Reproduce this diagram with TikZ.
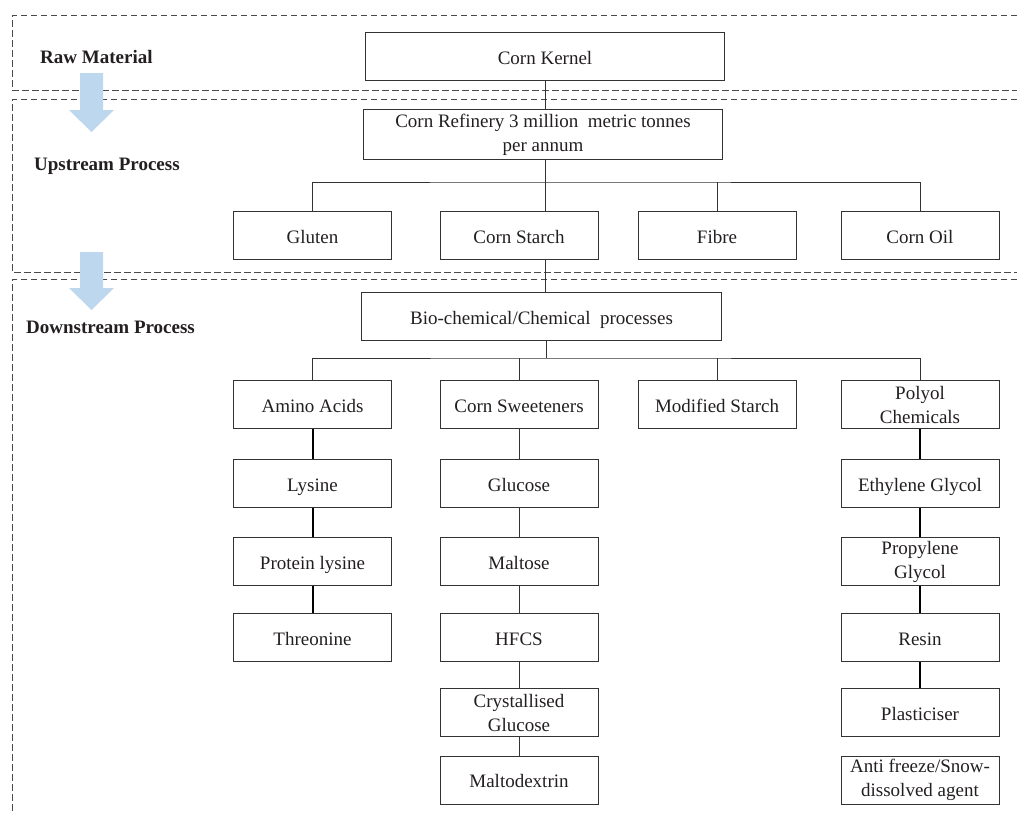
\documentclass[tikz,border=0pt]{standalone}
\usepackage{fontspec}
\setmainfont{Liberation Serif}
\usetikzlibrary{positioning}
\definecolor{txt}{HTML}{231F20}
\definecolor{edge}{HTML}{333333}
\definecolor{dashc}{HTML}{4A4A4A}
\definecolor{arrowblue}{HTML}{BDD7EE}
\tikzset{
  x=1pt, y=-1pt,
  boxbase/.style={draw=edge, line width=1pt, minimum width=158pt, minimum height=48pt,
    inner sep=0pt, align=center, text=txt, font=\fontsize{19}{24}\selectfont},
  box/.style={boxbase, text height=15pt, text depth=0pt},
  boxtwo/.style={boxbase},
  frameline/.style={draw=dashc, line width=0.9pt, dash pattern=on 6.5pt off 3.5pt},
  thin/.style={draw=edge, line width=0.9pt},
  thick/.style={draw=black, line width=2pt},
  stage/.style={anchor=base west, text=txt, inner sep=0pt, font=\fontsize{19}{24}\selectfont\bfseries},
  bigarrow/.style={fill=arrowblue, draw=none}
}
\begin{document}
\begin{tikzpicture}
\useasboundingbox (0,0) rectangle (1017,814);
% dashed stage frames (open on the right)
\draw[frameline] (1017,15) -- (12,15) -- (12,90) -- (1017,90);
\draw[frameline] (1017,99) -- (12,99) -- (12,272) -- (1017,272);
\draw[frameline] (1017,279) -- (12,279) -- (12,814);
% stage arrows
\fill[bigarrow] (80,73) -- (103,73) -- (103,110) -- (114,110) -- (91.5,132) -- (69,110) -- (80,110) -- cycle;
\fill[bigarrow] (80,252) -- (103,252) -- (103,288) -- (114,288) -- (91.5,310) -- (69,288) -- (80,288) -- cycle;
% stage labels
\node[stage] (lraw) at (40,63) {Raw Material};
\node[stage] (lup) at (34,170) {Upstream Process};
\node[stage] (ldown) at (26,333) {Downstream Process};
% raw material
\node[box, minimum width=359pt] (ker) at (545,56.5) {Corn Kernel};
% upstream
\node[boxtwo, minimum width=359pt, minimum height=50pt] (ref) at (543,134.5) {Corn Refinery 3 million\ \ metric tonnes\\per annum};
\node[box] (glu) at (312.5,235.5) {Gluten};
\node[box] (cs) at (519,235.5) {Corn Starch};
\node[box] (fib) at (717,235.5) {Fibre};
\node[box] (oil) at (920,235.5) {Corn Oil};
\coordinate (busU) at (545,182);
% downstream
\node[box, minimum width=360pt] (bio) at (541.5,316.5) {Bio-chemical/Chemical\ \ processes};
\coordinate (busD) at (546,358);
\node[box] (ami) at (312.5,404.5) {Amino Acids};
\node[box] (swe) at (519,404.5) {Corn Sweeteners};
\node[box] (mod) at (717,404.5) {Modified Starch};
\node[boxtwo] (pol) at (920,404.5) {Polyol\\Chemicals};
% amino acids column
\node[box] (lys) at (312.5,483.5) {Lysine};
\node[box] (plys) at (312.5,561.5) {Protein lysine};
\node[box] (thr) at (312.5,637.5) {Threonine};
% sweeteners column
\node[box] (glc) at (519,483.5) {Glucose};
\node[box] (mal) at (519,561.5) {Maltose};
\node[box] (hfcs) at (519,637.5) {HFCS};
\node[boxtwo] (cry) at (519,712.5) {Crystallised\\Glucose};
\node[box] (mdx) at (519,780) {Maltodextrin};
% polyol column
\node[box] (eth) at (920,483.5) {Ethylene Glycol};
\node[boxtwo] (pro) at (920,561.5) {Propylene\\Glycol};
\node[box] (res) at (920,637.5) {Resin};
\node[box] (pla) at (920,712.5) {Plasticiser};
\node[boxtwo] (anti) at (920,780) {Anti freeze/Snow-\\dissolved agent};
% connectors upstream
\draw[thin] (ker.south) -- (ker.south |- ref.north);
\draw[thin] (ref.south -| busU) -- (busU);
\draw[thin] (glu.north) |- (busU) -| (oil.north);
\draw[thin] (busU) -- (cs.north -| busU);
\draw[thin] (fib.north) -- (fib.north |- busU);
% connectors downstream
\draw[thin] (cs.south -| busU) -- (bio.north -| busU);
\draw[thin] (bio.south -| busD) -- (busD);
\draw[thin] (ami.north) |- (busD) -| (pol.north);
\draw[thin] (swe.north) -- (swe.north |- busD);
\draw[thin] (mod.north) -- (mod.north |- busD);
% columns
\draw[thick] (ami) -- (lys);
\draw[thick] (lys) -- (plys);
\draw[thick] (plys) -- (thr);
\draw[thin] (swe) -- (glc);
\draw[thin] (glc) -- (mal);
\draw[thin] (mal) -- (hfcs);
\draw[thin] (hfcs) -- (cry);
\draw[thin] (cry) -- (mdx);
\draw[thick] (pol) -- (eth);
\draw[thick] (eth) -- (pro);
\draw[thick] (pro) -- (res);
\draw[thick] (res) -- (pla);
\end{tikzpicture}
\end{document}
